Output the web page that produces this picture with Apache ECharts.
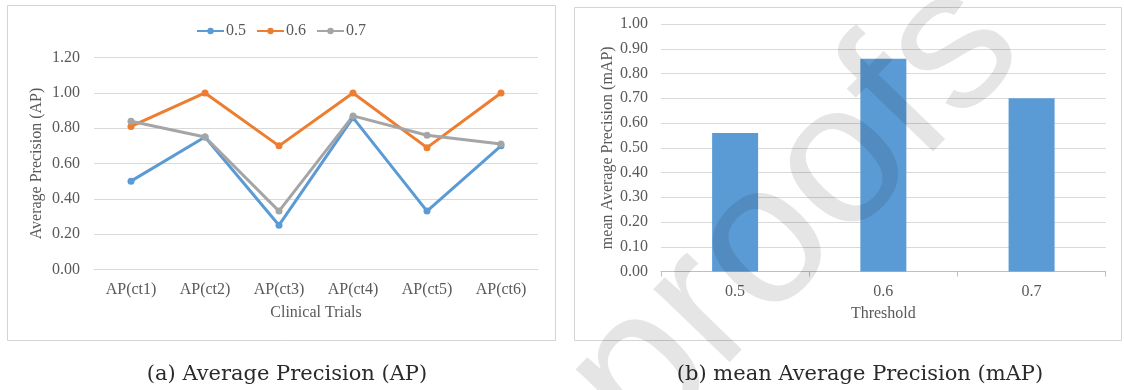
<!DOCTYPE html>
<html><head><meta charset="utf-8">
<script src="https://cdn.jsdelivr.net/npm/echarts@6/dist/echarts.min.js"></script>
<style>html,body{margin:0;padding:0;background:#fff}#c{width:1124px;height:390px}</style>
</head><body><div id="c"></div>
<script>
const trials = ['AP(ct1)','AP(ct2)','AP(ct3)','AP(ct4)','AP(ct5)','AP(ct6)'];
const ap05 = [0.50, 0.75, 0.25, 0.86, 0.33, 0.70];
const ap06 = [0.81, 1.00, 0.70, 1.00, 0.69, 1.00];
const ap07 = [0.84, 0.75, 0.33, 0.87, 0.76, 0.71];
const thresholds = ['0.5','0.6','0.7'];
const mapValues = [0.56, 0.86, 0.70];

const SERIF = '"Liberation Serif","Times New Roman",serif';
const TXT = '#595959';
const GRID = '#d9d9d9';
const c = echarts.init(document.getElementById('c'), null, {renderer:'canvas'});
const lineS = (name, data, color) => ({
  type:'line', name, data, xAxisIndex:0, yAxisIndex:0,
  symbol:'circle', symbolSize:7, lineStyle:{width:3, color}, itemStyle:{color}, z:3
});
c.setOption({
  animation:false,
  textStyle:{fontFamily:SERIF},
  legend:{left:191, top:18, itemWidth:27, itemHeight:8, itemGap:10,
    textStyle:{fontFamily:SERIF, fontSize:16, color:TXT, padding:[0,0,0,-3]},
    data:['0.5','0.6','0.7']},
  grid:[
    {left:94, right:586, top:57.7, bottom:120.7},
    {left:661, right:18.3, top:24, bottom:118.5}
  ],
  xAxis:[
    {type:'category', gridIndex:0, data:trials,
     axisLine:{lineStyle:{color:GRID}}, axisTick:{show:false},
     axisLabel:{fontFamily:SERIF, fontSize:16, color:TXT, margin:12},
     name:'Clinical Trials', nameLocation:'middle', nameGap:35,
     nameTextStyle:{fontFamily:SERIF, fontSize:16, color:TXT}},
    {type:'category', gridIndex:1, data:thresholds,
     axisLine:{lineStyle:{color:'#bfbfbf'}}, axisTick:{show:true, length:5, lineStyle:{color:'#bfbfbf'}},
     axisLabel:{fontFamily:SERIF, fontSize:16, color:TXT, margin:12},
     name:'Threshold', nameLocation:'middle', nameGap:34,
     nameTextStyle:{fontFamily:SERIF, fontSize:16, color:TXT}}
  ],
  yAxis:[
    {type:'value', gridIndex:0, min:0, max:1.2, interval:0.2,
     axisLine:{show:false}, axisTick:{show:false},
     splitLine:{lineStyle:{color:GRID, width:1}},
     axisLabel:{fontFamily:SERIF, fontSize:16, color:TXT, margin:14, formatter:v=>v.toFixed(2)},
     name:'Average Precision (AP)', nameLocation:'middle', nameGap:49,
     nameTextStyle:{fontFamily:SERIF, fontSize:16, color:TXT}},
    {type:'value', gridIndex:1, min:0, max:1, interval:0.1,
     axisLine:{show:false}, axisTick:{show:false},
     splitLine:{lineStyle:{color:GRID, width:1}},
     axisLabel:{fontFamily:SERIF, fontSize:16, color:TXT, margin:13, formatter:v=>v.toFixed(2)},
     name:'mean Average Precision (mAP)', nameLocation:'middle', nameGap:42,
     nameTextStyle:{fontFamily:SERIF, fontSize:16, color:TXT}}
  ],
  series:[
    lineS('0.5', ap05, '#5b9bd5'),
    lineS('0.6', ap06, '#ed7d31'),
    lineS('0.7', ap07, '#a5a5a5'),
    {type:'bar', xAxisIndex:1, yAxisIndex:1, data:mapValues, barWidth:46,
     itemStyle:{color:'#5b9bd5'}}
  ],
  graphic:[
    {type:'rect', shape:{x:7.5, y:5.5, width:548, height:335}, style:{fill:'none', stroke:'#d4d4d4', lineWidth:1}, z:1},
    {type:'rect', shape:{x:574.5, y:7.5, width:547, height:333}, style:{fill:'none', stroke:'#d4d4d4', lineWidth:1}, z:1},
    {type:'text', x:287, y:375, style:{text:'(a) Average Precision (AP)', font:'21px "DejaVu Serif"', fill:'#2a2a2a', textAlign:'center', textVerticalAlign:'middle'}},
    {type:'text', x:860, y:375, style:{text:'(b) mean Average Precision (mAP)', font:'21px "DejaVu Serif"', fill:'#2a2a2a', textAlign:'center', textVerticalAlign:'middle'}},
    {type:'text', x:796, y:214, rotation:46*Math.PI/180, z:100,
     style:{text:'proofs', font:'200px "Liberation Sans"', fill:'rgba(0,0,0,0.1)', textAlign:'center', textVerticalAlign:'middle'}}
  ]
});
</script></body></html>
